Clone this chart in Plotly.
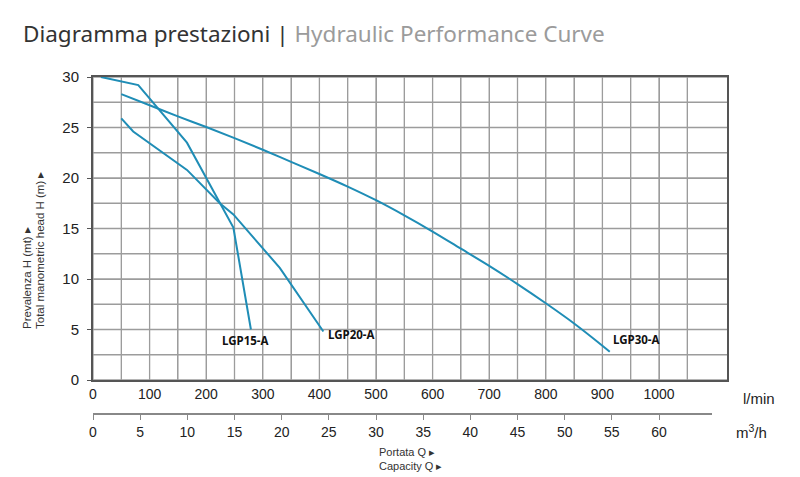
import plotly.graph_objects as go

# ---------------- data ----------------
lgp15_q = [14, 80, 166, 248, 279]
lgp15_h = [30.0, 29.2, 23.5, 15.1, 5.0]

lgp20_q = [50, 71, 166, 224, 248, 330, 407]
lgp20_h = [25.9, 24.6, 20.8, 17.5, 16.4, 11.1, 4.8]

lgp30_q = [50, 100, 150, 200, 250, 300, 350, 400, 450, 500, 550, 600, 650, 700, 750, 800, 850, 900, 913]
lgp30_h = [28.3, 27.2, 26.1, 25.05, 23.95, 22.8, 21.6, 20.4, 19.15, 17.8, 16.3, 14.7, 13.0, 11.3, 9.5, 7.6, 5.6, 3.4, 2.8]

series_names = ["LGP15-A", "LGP20-A", "LGP30-A"]

lmin_labels = [0, 100, 200, 300, 400, 500, 600, 700, 800, 900, 1000]
lmin_grid = [0, 50, 100, 150, 200, 250, 300, 350, 400, 450, 500, 550, 600, 650, 700,
             750, 800, 850, 900, 950, 1000, 1050]
m3h_ticks = [0, 5, 10, 15, 20, 25, 30, 35, 40, 45, 50, 55, 60]
head_ticks = [0, 5, 10, 15, 20, 25, 30]
head_grid = [0, 2.5, 5, 7.5, 10, 12.5, 15, 17.5, 20, 22.5, 25, 27.5, 30]

# ---------------- layout geometry ----------------
W, H = 800, 477
ML, MR, MT, MB = 93, 73, 77, 40
PW = W - ML - MR
PH = H - MT - MB


def px(xp):
    return (xp - ML) / PW


def py(yp):
    return (H - MB - yp) / PH


LINE = "#1f8db6"
GRID = "#9c9c9c"
AXIS = "#555555"
TXT = "#222222"
TICKFONT = "Liberation Sans, Arial, sans-serif"

fig = go.Figure()

for name, q, h, shape in [("LGP15-A", lgp15_q, lgp15_h, "linear"),
                          ("LGP20-A", lgp20_q, lgp20_h, "linear"),
                          ("LGP30-A", lgp30_q, lgp30_h, "spline")]:
    fig.add_trace(go.Scatter(x=q, y=h, mode="lines", name=name,
                             line=dict(color=LINE, width=2, shape=shape),
                             showlegend=False, hoverinfo="skip"))

# invisible helper traces for the tick-only axes
fig.add_trace(go.Scatter(x=[0], y=[0], xaxis="x", yaxis="y3", mode="markers",
                         marker=dict(opacity=0), showlegend=False, hoverinfo="skip"))
fig.add_trace(go.Scatter(x=m3h_ticks, y=[0.5] * len(m3h_ticks), xaxis="x2", yaxis="y2",
                         mode="markers", marker=dict(opacity=0), showlegend=False,
                         hoverinfo="skip"))

y_bottom = py(380)
x2_end = (712 - ML) / PW
x2_range_max = (712 - ML) / (566 / 60)

lmin_text = [str(v) if v in lmin_labels else "" for v in lmin_grid]

fig.update_layout(
    width=W, height=H,
    margin=dict(l=ML, r=MR, t=MT, b=MB),
    paper_bgcolor="white", plot_bgcolor="white",
    xaxis=dict(
        range=[0, PW / 0.566], domain=[0, 1],
        tickmode="array", tickvals=lmin_grid, ticktext=lmin_text,
        showgrid=True, gridcolor=GRID, gridwidth=1.3,
        ticks="", zeroline=False,
        showline=True, linecolor=AXIS, linewidth=1.6, mirror=True,
        tickfont=dict(family=TICKFONT, size=14, color=TXT),
        fixedrange=True,
    ),
    yaxis=dict(
        range=[0, 30], domain=[y_bottom, 1],
        tickmode="array", tickvals=head_grid, showticklabels=False,
        showgrid=True, gridcolor=GRID, gridwidth=1.3,
        ticks="", zeroline=False,
        showline=True, linecolor=AXIS, linewidth=1.6, mirror=True,
        fixedrange=True,
    ),
    yaxis3=dict(
        range=[0, 30], overlaying="y", side="left", anchor="x",
        tickmode="array", tickvals=head_ticks,
        ticks="outside", ticklen=5, tickcolor=AXIS, tickwidth=1.2,
        ticklabelstandoff=5,
        showgrid=False, zeroline=False, showline=False,
        tickfont=dict(family=TICKFONT, size=15, color=TXT),
        fixedrange=True,
    ),
    xaxis2=dict(
        range=[0, x2_range_max], domain=[0, x2_end], anchor="y2",
        tickmode="array", tickvals=m3h_ticks, ticktext=[str(v) for v in m3h_ticks],
        ticks="outside", ticklen=5, tickcolor="#888888", tickwidth=1.4,
        showline=True, linecolor="#888888", linewidth=1.6,
        showgrid=False, zeroline=False,
        tickfont=dict(family=TICKFONT, size=14, color=TXT),
        fixedrange=True,
    ),
    yaxis2=dict(domain=[py(413), py(412)], range=[0, 1], visible=False,
                anchor="x2", fixedrange=True),
)

# grid drawn as shapes tied to the axis values (robust across renderers)
shapes = []
for v in lmin_grid:
    shapes.append(dict(type="line", xref="x", yref="y domain", x0=v, x1=v, y0=0, y1=1,
                       line=dict(color=GRID, width=1.3), layer="below"))
for v in head_grid:
    shapes.append(dict(type="line", xref="x domain", yref="y", x0=0, x1=1, y0=v, y1=v,
                       line=dict(color=GRID, width=1.3), layer="below"))
fig.update_layout(shapes=shapes)

annotations = []
# title
annotations.append(dict(
    xref="paper", yref="paper", x=px(21), y=py(33), xanchor="left", yanchor="middle",
    text="Diagramma prestazioni | <span style='color:#9b9b9b'>Hydraulic Performance Curve</span>",
    showarrow=False, font=dict(family="Noto Sans, sans-serif", size=22.5, color="#333333")))
# y axis title (two rotated lines)
for txt, xc in [("Prevalenza H (mt) ▸", 27), ("Total manometric head H (m) ▸", 39.5)]:
    annotations.append(dict(
        xref="paper", yref="paper", x=px(xc), y=py(331), xanchor="center", yanchor="bottom",
        text=txt, textangle=-90, showarrow=False,
        font=dict(family=TICKFONT, size=11.5, color="#333333")))
# unit labels
annotations.append(dict(
    xref="paper", yref="paper", x=px(741), y=py(398), xanchor="left", yanchor="middle",
    text="l/min", showarrow=False, font=dict(family=TICKFONT, size=15, color=TXT)))
annotations.append(dict(
    xref="paper", yref="paper", x=px(734), y=py(431), xanchor="left", yanchor="middle",
    text="m<sup>3</sup>/h", showarrow=False, font=dict(family=TICKFONT, size=15, color=TXT)))
# capacity label
annotations.append(dict(
    xref="paper", yref="paper", x=px(377), y=py(444), xanchor="left", yanchor="top",
    text="Portata Q ▸<br>Capacity Q ▸", align="left", showarrow=False,
    font=dict(family=TICKFONT, size=11, color="#333333")))

# curve labels, anchored at each curve's last point
label_style = {
    "LGP15-A": dict(xanchor="center", xshift=-5, yshift=-11),
    "LGP20-A": dict(xanchor="left", xshift=3, yshift=-3),
    "LGP30-A": dict(xanchor="left", xshift=1, yshift=12),
}
for name, q, h in zip(series_names, [lgp15_q, lgp20_q, lgp30_q], [lgp15_h, lgp20_h, lgp30_h]):
    st = label_style[name]
    annotations.append(dict(
        x=q[-1], y=h[-1], xref="x", yref="y", text="<b>" + name + "</b>",
        showarrow=False, yanchor="middle",
        font=dict(family="Noto Sans, sans-serif", size=11.5, color="#111111"), **st))

fig.update_layout(annotations=annotations)

fig.write_html("out.html")
